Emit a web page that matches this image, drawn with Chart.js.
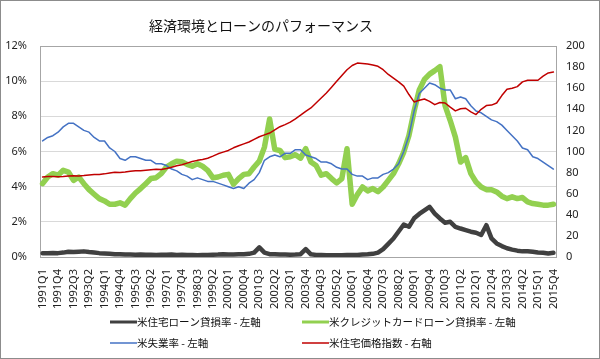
<!DOCTYPE html>
<html>
<head>
<meta charset="utf-8">
<script src="https://cdn.jsdelivr.net/npm/chart.js@4/dist/chart.umd.min.js"></script>
<style>
  html, body { margin: 0; padding: 0; background: #fff; }
</style>
</head>
<body>
<canvas id="chart" width="600" height="359"></canvas>
<script>
const chartTitle = "経済環境とローンのパフォーマンス";

// quarters 1991Q1 .. 2015Q4
const quarters = [];
for (let y = 1991; y <= 2015; y++) {
    for (let q = 1; q <= 4; q++) quarters.push(y + "Q" + q);
}

const seriesNames = ["米住宅ローン貸損率 - 左軸", "米クレジットカードローン貸損率 - 左軸", "米失業率 - 左軸", "米住宅価格指数 - 右軸"];

// left axis (%)
const mortgageLoss = [0.22,0.22,0.23,0.22, 0.25,0.30,0.28,0.30, 0.32,0.28,0.25,0.22, 0.20,0.18,0.15,0.16,
    0.14,0.14,0.13,0.14, 0.13,0.13,0.12,0.13, 0.13,0.14,0.12,0.13, 0.12,0.12,0.10,0.12,
    0.12,0.13,0.14,0.16, 0.14,0.14,0.15,0.16, 0.18,0.25,0.55,0.25, 0.16,0.15,0.14,0.14,
    0.13,0.14,0.16,0.45, 0.15,0.12,0.12,0.10, 0.10,0.10,0.10,0.11, 0.11,0.12,0.14,0.15,
    0.18,0.25,0.45,0.75, 1.05,1.45,1.85,1.72, 2.20,2.45,2.65,2.85, 2.47,2.19,1.95,2.00,
    1.72,1.62,1.53,1.44, 1.38,1.25,1.81,1.06, 0.77,0.62,0.50,0.42, 0.36,0.32,0.33,0.30,
    0.26,0.24,0.20,0.24];

const cardLoss = [4.17,4.55,4.74,4.65, 4.93,4.83,4.36,4.55, 4.17,3.83,3.57,3.32, 3.19,3.00,3.00,3.08,
    2.95,3.32,3.64,3.89, 4.17,4.46,4.51,4.74, 5.12,5.30,5.45,5.42, 5.27,5.16,5.30,5.16,
    4.93,4.51,4.55,4.65, 4.70,4.14,4.46,4.70, 4.74,5.12,5.45,6.25, 7.85,6.12,6.06,5.65,
    5.70,5.82,5.62,6.16, 5.40,5.20,4.65,4.74, 4.46,4.21,4.46,6.16, 3.00,3.55,3.98,3.76,
    3.89,3.72,3.98,4.36, 4.74,5.30,5.97,6.91, 8.30,9.50,10.10,10.40, 10.60,10.82,8.61,7.76,
    6.82,5.40,5.65,4.74, 4.27,3.98,3.83,3.83, 3.70,3.46,3.32,3.42, 3.32,3.38,3.13,3.04,
    3.00,2.95,2.95,3.00];

const unemployment = [6.6,6.8,6.9,7.1, 7.4,7.6,7.6,7.4, 7.2,7.1,6.8,6.6, 6.6,6.2,6.0,5.6,
    5.5,5.7,5.7,5.6, 5.5,5.5,5.3,5.3, 5.2,5.0,4.9,4.7, 4.6,4.4,4.5,4.4,
    4.3,4.3,4.2,4.1, 4.0,3.9,4.0,3.9, 4.2,4.4,4.8,5.5, 5.7,5.8,5.7,5.9,
    5.9,6.1,6.1,5.8, 5.7,5.6,5.4,5.4, 5.3,5.1,5.0,5.0, 4.7,4.6,4.6,4.4,
    4.5,4.5,4.7,4.8, 5.0,5.3,6.0,6.9, 8.3,9.3,9.6,9.9, 9.8,9.6,9.5,9.5,
    9.0,9.1,9.0,8.6, 8.3,8.2,8.0,7.8, 7.7,7.5,7.2,6.9, 6.6,6.2,6.1,5.7,
    5.6,5.4,5.2,5.0];

// right axis (index)
const housePrice = [75.8,76.3,76.3,76.0, 76.3,76.8,77.0,76.8, 77.2,77.8,78.2,78.2, 78.8,79.6,80.3,80.2,
    80.5,81.2,81.8,81.7, 82.2,82.8,83.2,83.0, 83.8,85.0,86.5,87.5, 89.0,90.5,91.6,92.5,
    93.6,95.6,97.8,99.4, 101.0,103.5,105.5,107.2, 109.0,111.5,114.0,115.8, 117.5,120.5,123.5,125.5,
    127.8,131.0,134.4,138.0, 141.3,146.0,150.7,155.5, 160.8,166.5,172.0,177.5, 181.5,183.8,183.5,183.0,
    182.0,180.8,177.5,173.0, 169.6,166.0,162.0,154.0, 147.0,148.5,149.8,147.5, 144.4,146.5,146.0,142.0,
    138.5,140.5,141.0,137.5, 135.0,140.0,143.5,144.0, 146.0,153.0,159.0,160.0, 161.5,166.0,167.5,167.5,
    167.5,171.5,174.5,175.3];

const leftMax = 12, leftStep = 2;
const rightMax = 200, rightStep = 20;

const jpFont = "'Noto Sans CJK JP', 'Noto Sans', sans-serif";

// frame, title and 2x2 legend
const decor = {
    id: "decor",
    beforeDatasetsDraw(chart) {
        const ctx = chart.ctx, a = chart.chartArea;
        ctx.save();
        ctx.strokeStyle = "#a6a6a6";
        ctx.lineWidth = 1;
        ctx.strokeRect(Math.round(a.left) + 0.5, Math.round(a.top) + 0.5,
            Math.round(a.right - a.left), Math.round(a.bottom - a.top));
        ctx.restore();
    },
    afterDraw(chart) {
        const ctx = chart.ctx;
        ctx.save();
        ctx.strokeStyle = "#8c8c8c";
        ctx.lineWidth = 1;
        ctx.strokeRect(0.5, 0.5, chart.width - 1, chart.height - 1);

        ctx.fillStyle = "#111";
        ctx.font = "14px " + jpFont;
        ctx.textAlign = "center";
        ctx.textBaseline = "middle";
        ctx.fillText(chartTitle, 261, 26);

        const cols = [110, 302], rows = [322, 343];
        ctx.font = "10.5px " + jpFont;
        ctx.textAlign = "left";
        chart.data.datasets.forEach((ds, i) => {
            const x = cols[i % 2], y = rows[Math.floor(i / 2)];
            ctx.strokeStyle = ds.borderColor;
            ctx.lineWidth = Math.min(ds.borderWidth, 3);
            ctx.beginPath();
            ctx.moveTo(x, y);
            ctx.lineTo(x + 27, y);
            ctx.stroke();
            ctx.fillStyle = "#111";
            ctx.fillText(ds.label, x + 27, y);
        });
        ctx.restore();
    }
};

new Chart(document.getElementById("chart"), {
    type: "line",
    data: {
        labels: quarters,
        datasets: [
            { label: seriesNames[0], data: mortgageLoss, borderColor: "#404040", borderWidth: 4.5, yAxisID: "y", order: 4 },
            { label: seriesNames[1], data: cardLoss, borderColor: "#92d050", borderWidth: 5.5, yAxisID: "y", order: 3 },
            { label: seriesNames[2], data: unemployment, borderColor: "#4472c4", borderWidth: 1.5, yAxisID: "y", order: 2 },
            { label: seriesNames[3], data: housePrice, borderColor: "#c00000", borderWidth: 1.5, yAxisID: "y1", order: 1 }
        ]
    },
    options: {
        responsive: false,
        animation: false,
        layout: { padding: { top: 46, left: 0, right: 0, bottom: 0 } },
        elements: {
            point: { radius: 0 },
            line: { tension: 0, borderJoinStyle: "round", borderCapStyle: "round" }
        },
        plugins: {
            legend: { display: false },
            title: { display: false },
            tooltip: { enabled: false }
        },
        scales: {
            x: {
                offset: true,
                grid: { display: false },
                border: { display: false },
                ticks: {
                    autoSkip: false,
                    maxRotation: 90,
                    minRotation: 90,
                    padding: 4,
                    color: "#222",
                    font: { size: 11, family: "'Noto Sans', sans-serif" },
                    callback: (v, i) => (i % 3 === 0 ? quarters[i] : "")
                },
                afterFit: (s) => { s.height = 102; }
            },
            y: {
                position: "left",
                min: 0,
                max: leftMax,
                grid: { color: "#d9d9d9", lineWidth: 1, drawTicks: false },
                border: { display: false },
                ticks: {
                    stepSize: leftStep,
                    padding: 13,
                    color: "#222",
                    font: { size: 11, family: "'Noto Sans', sans-serif" },
                    callback: (v) => v + "%"
                },
                afterFit: (s) => { s.width = 40; }
            },
            y1: {
                position: "right",
                min: 0,
                max: rightMax,
                grid: { display: false, drawTicks: false },
                border: { display: false },
                ticks: {
                    stepSize: rightStep,
                    padding: 10,
                    color: "#222",
                    font: { size: 11, family: "'Noto Sans', sans-serif" }
                },
                afterFit: (s) => { s.width = 44; }
            }
        }
    },
    plugins: [decor]
});
</script>
</body>
</html>
